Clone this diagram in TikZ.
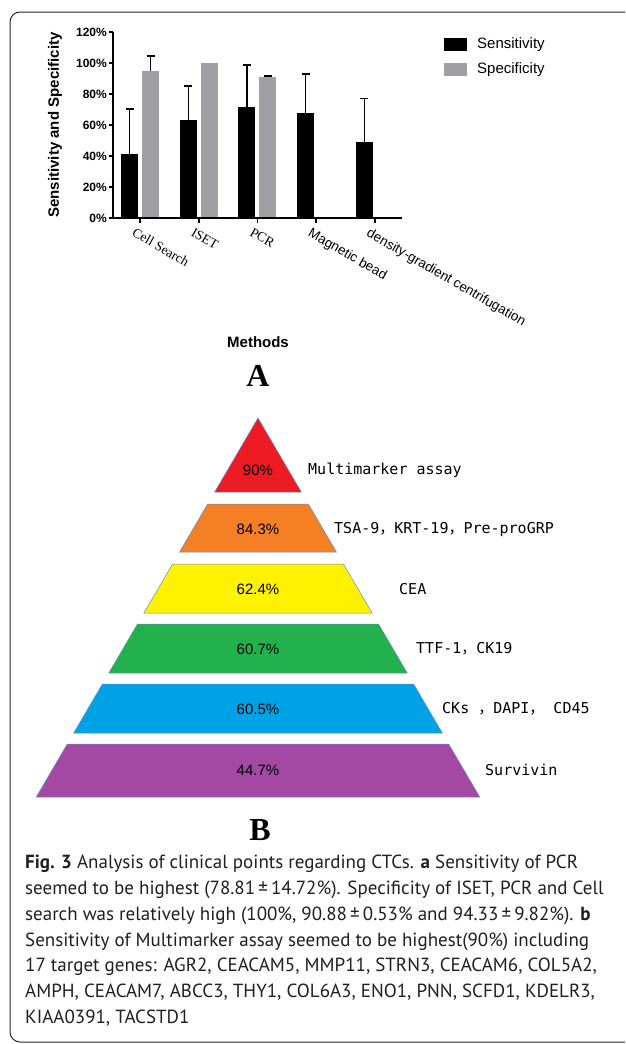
\documentclass[tikz,border=0pt]{standalone}
\usepackage{fontspec}
\setmainfont{Liberation Serif}
\setsansfont{Liberation Sans}
\newfontfamily\legfont{PT Sans}
\newfontfamily\marqfont{DejaVu Sans Mono}
\newfontfamily\cjk{Noto Sans CJK SC}
\newcommand\fw{{\cjk ，}}
\definecolor{specgray}{RGB}{160,160,164}
\definecolor{cadregris}{RGB}{40,40,40}
\definecolor{bord}{RGB}{100,140,195}
\definecolor{rouge}{RGB}{237,28,36}
\definecolor{orange}{RGB}{245,127,36}
\definecolor{jaune}{RGB}{255,242,0}
\definecolor{vert}{RGB}{34,177,76}
\definecolor{bleu}{RGB}{0,162,230}
\definecolor{violet}{RGB}{163,73,164}
\begin{document}
\begin{tikzpicture}[x=1pt, y=-1pt,
                  cadre/.style={draw=cadregris, line width=1pt, rounded corners=10pt},
                  axe/.style={line width=1.6pt},
                  erreur/.style={line width=1.3pt},
                  grad/.style={font=\fontsize{12}{14}\selectfont\sffamily\bfseries, inner sep=0},
                  titre/.style={font=\fontsize{15}{18}\selectfont\sffamily\bfseries, inner sep=0},
                  cat/.style={font=\fontsize{13.5}{16}\selectfont, rotate=-30, anchor=north west, inner sep=0},
                  leg/.style={font=\fontsize{15}{18}\selectfont\sffamily, inner sep=0},
                  case/.style={minimum width=23pt, minimum height=13pt, inner sep=0},
                  lettre/.style={font=\fontsize{32}{36}\selectfont\rmfamily\bfseries, inner sep=0},
                  etage/.style={draw=bord, line width=0.5pt},
                  pct/.style={font=\fontsize{15}{18}\selectfont\sffamily, inner sep=0},
                  marq/.style={font=\fontsize{15}{18}\selectfont\marqfont, inner sep=0, anchor=west},
                  legende/.style={font=\fontsize{19}{25.8}\selectfont\legfont, text=black!88, align=left, inner sep=0, anchor=north west}]
\useasboundingbox (0,0) rectangle (625,1044);
\begin{scope}
\clip (0,0) rectangle (625,1044);
\draw[cadre] (10,12) rectangle (700,1042);
\end{scope}
\foreach \i/\v/\e in {0/41/70.3, 1/63.2/85.2, 2/71.6/98.7, 3/68/93, 4/49/77}
  {\fill (140+58.7*\i-19,218) rectangle (140+58.7*\i-2,{218-1.55*\v});
   \draw[erreur] (140+58.7*\i-10.5,{218-1.55*\v}) -- (140+58.7*\i-10.5,{218-1.55*\e})
                 ++(-4,0) -- ++(8,0);};
\foreach \i/\v in {0/95, 1/100, 2/91}
  \fill[specgray] (140+58.7*\i+2,218) rectangle (140+58.7*\i+19,{218-1.55*\v});
\foreach \i/\v/\e in {0/95/104.5, 2/91/91.6}
  \draw[erreur] (140+58.7*\i+10.5,{218-1.55*\v}) -- (140+58.7*\i+10.5,{218-1.55*\e})
                ++(-4,0) -- ++(8,0);
\draw[axe] (113,32) -- (113,218) -- (402,218);
\foreach \v in {0,20,...,120}
  {\draw[axe] (109,{218-1.55*\v}) -- (113,{218-1.55*\v});
   \node[grad,anchor=east] (g\v) at (107,{218-1.55*\v}) {\v\%};};
\foreach \i in {0,...,4}
  \draw[axe] (140+58.7*\i,218) -- (140+58.7*\i,223);
\foreach \i/\f/\txt in {0/\rmfamily/Cell Search, 1/\rmfamily/ISET, 2/\rmfamily/PCR,
                        3/\sffamily/Magnetic bead, 4/\sffamily/density-gradient centrifugation}
  \node[cat] (c\i) at (136+58.7*\i,227) {\f\txt};
\node[titre,rotate=90] (ytitre) at (55,125) {Sensitivity and Specificity};
\node[case,fill=black] (cs) at (455,44.5) {};
\node[leg,anchor=west] (ls) at (477,45) {Sensitivity};
\node[case,fill=specgray] (cp) at (455,69.5) {};
\node[leg,anchor=west] (lp) at (477,70) {Specificity};
\node[titre] (meth) at (258,342) {Methods};
\node[lettre] (la) at (258,376) {A};
\foreach \n/\a/\b/\c/\y/\p/\lx/\lab in {1/418/492/rouge/470/90\%/308/Multimarker assay,
    2/504/552/orange/529/84.3\%/334/TSA-9\fw KRT-19\fw Pre-proGRP,
    3/564/613/jaune/589/62.4\%/399/CEA,
    4/624/673/vert/649/60.7\%/416/TTF-1\fw CK19,
    5/684/733/bleu/709/60.5\%/442/CKs \fw DAPI\fw{} CD45,
    6/744/797/violet/770/44.7\%/485/Survivin}
  {\filldraw[etage,fill=\c] ({258-0.585*(\a-418)},\a) -- ({258+0.585*(\a-418)},\a)
       -- ({258+0.585*(\b-418)},\b) -- ({258-0.585*(\b-418)},\b) -- cycle;
   \node[pct] (p\n) at (258,\y) {\p};
   \node[marq] (m\n) at (\lx,\y) {\lab};};
\node[lettre] (lb) at (260,830) {B};
\node[legende] (fig) at (25,855) {\textbf{Fig. 3} Analysis of clinical points regarding CTCs. \textbf{a} Sensitivity of PCR\\
seemed to be highest (78.81\,±\,14.72\%). Specificity of ISET, PCR and Cell\\
search was relatively high (100\%, 90.88\,±\,0.53\% and 94.33\,±\,9.82\%). \textbf{b}\\
Sensitivity of Multimarker assay seemed to be highest(90\%) including\\
17 target genes: AGR2, CEACAM5, MMP11, STRN3, CEACAM6, COL5A2,\\
AMPH, CEACAM7, ABCC3, THY1, COL6A3, ENO1, PNN, SCFD1, KDELR3,\\
KIAA0391, TACSTD1};
\end{tikzpicture}
\end{document}
